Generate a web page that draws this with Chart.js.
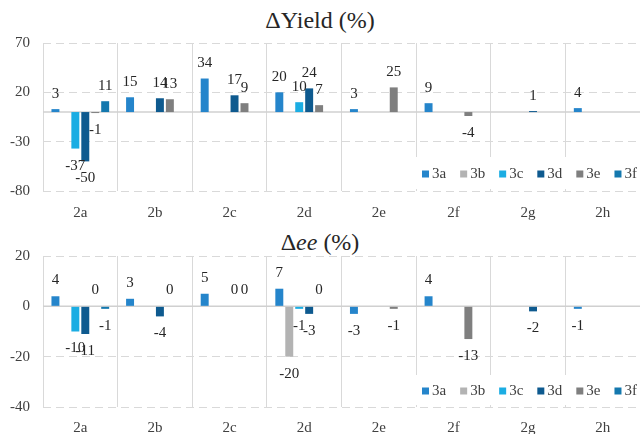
<!DOCTYPE html>
<html>
<head>
<meta charset="utf-8">
<script src="https://cdn.jsdelivr.net/npm/chart.js@4/dist/chart.umd.min.js"></script>
<style>.t{font-family:'Liberation Serif';font-size:24px;}</style>
</head>
<body style="margin:0;">
<div class="t" style="position:absolute;left:0;top:8px;width:640px;text-align:center;line-height:24px;color:#262626;">ΔYield (%)</div>
<div class="t" style="position:absolute;left:0;top:230px;width:640px;text-align:center;line-height:24px;color:#262626;">Δ<i>ee</i> (%)</div>
<div style="position:absolute;left:0;top:0px;width:640px;height:222px;"><canvas id="c1"></canvas></div>
<div style="position:absolute;left:0;top:222px;width:640px;height:212px;"><canvas id="c2"></canvas></div>
<script>
// data
const categories = ['2a', '2b', '2c', '2d', '2e', '2f', '2g', '2h'];
const seriesNames = ['3a', '3b', '3c', '3d', '3e', '3f'];
const seriesColors = ['#2585CB', '#B3B3B3', '#1BADE3', '#0E5A8F', '#7F7F7F', '#1478AE'];

// Yield (%)
const yield3a = [3, 15, 34, 20, 3, 9, null, 4];
const yield3b = [null, null, null, null, null, null, null, null];
const yield3c = [-37, null, null, 10, null, null, null, null];
const yield3d = [-50, 14, 17, 24, null, null, 1, null];
const yield3e = [-1, 13, 9, 7, 25, -4, null, null];
const yield3f = [11, null, null, null, null, null, null, null];
const yieldTicks = [-80, -30, 20, 70];

// ee (%)
const ee3a = [4, 3, 5, 7, -3, 4, null, -1];
const ee3b = [null, null, null, -20, null, null, null, null];
const ee3c = [-10, null, null, -1, null, null, null, null];
const ee3d = [-11, -4, 0, -3, null, null, -2, null];
const ee3e = [0, 0, 0, 0, -1, -13, null, null];
const ee3f = [-1, null, null, null, null, null, null, null];
const eeTicks = [-40, -20, 0, 20];

const FONT = "'Liberation Serif'";
const GRID = '#D9D9D9';

function makeDatasets(arrs) {
  return arrs.map((d, i) => ({
    label: seriesNames[i],
    data: d,
    backgroundColor: seriesColors[i],
    borderWidth: 0,
    categoryPercentage: 0.8,
    barPercentage: 0.8
  }));
}

const zeroLine = {
  id: 'zeroLine',
  beforeDatasetsDraw(chart) {
    const y = chart.scales.y.getPixelForValue(0);
    const a = chart.chartArea;
    const ctx = chart.ctx;
    ctx.save();
    ctx.strokeStyle = '#D0D0D0';
    ctx.lineWidth = 1.5;
    ctx.beginPath();
    ctx.moveTo(a.left, y);
    ctx.lineTo(a.right, y);
    ctx.stroke();
    ctx.restore();
  }
};

const barLabels = {
  id: 'barLabels',
  afterDatasetsDraw(chart, args, opts) {
    const ctx = chart.ctx;
    ctx.save();
    ctx.font = '15px ' + FONT;
    ctx.fillStyle = '#262626';
    ctx.textAlign = 'center';
    ctx.textBaseline = 'middle';
    chart.data.datasets.forEach((ds, di) => {
      const meta = chart.getDatasetMeta(di);
      ds.data.forEach((v, i) => {
        if (v === null || v === undefined) return;
        const el = meta.data[i];
        const y = v >= 0 ? el.y - opts.up : el.y + opts.down;
        ctx.fillText(String(v), el.x, y);
      });
    });
    ctx.restore();
  }
};

const boxLegend = {
  id: 'boxLegend',
  afterDraw(chart, args, opts) {
    const ctx = chart.ctx;
    const a = chart.chartArea;
    const top = a.bottom - opts.h - 2;
    ctx.save();
    ctx.fillStyle = '#fff';
    ctx.fillRect(a.left + 372, top, a.right - a.left - 372 + 2, opts.h);
    ctx.font = '15px ' + FONT;
    ctx.textBaseline = 'middle';
    ctx.textAlign = 'left';
    let x = a.left + 379;
    const cy = top + opts.h / 2 + 1;
    chart.data.datasets.forEach((ds) => {
      ctx.fillStyle = ds.backgroundColor;
      ctx.fillRect(x, cy - 3.5, 7, 7);
      x += 10;
      ctx.fillStyle = '#404040';
      ctx.fillText(ds.label, x, cy);
      x += ctx.measureText(ds.label).width + 14;
    });
    ctx.restore();
  }
};

function makeChart(id, arrs, ticksArr, cfg) {
  const min = ticksArr[0], max = ticksArr[ticksArr.length - 1];
  return new Chart(document.getElementById(id), {
    type: 'bar',
    data: { labels: categories, datasets: makeDatasets(arrs) },
    options: {
      responsive: true,
      maintainAspectRatio: false,
      animation: false,
      layout: { padding: { top: cfg.padTop, left: 0, right: 0, bottom: 0 } },
      plugins: {
        legend: { display: false },
        title: { display: false },
        tooltip: { enabled: false },
        barLabels: { up: cfg.up, down: cfg.down },
        boxLegend: { h: cfg.legendH }
      },
      scales: {
        x: {
          grid: { color: GRID, lineWidth: 1, drawTicks: false, offset: true },
          border: { display: false },
          ticks: { font: { family: FONT, size: 15 }, color: '#404040', padding: cfg.xPad },
          afterFit: (s) => { s.height = cfg.xHeight; }
        },
        y: {
          min: min, max: max,
          afterBuildTicks: (s) => { s.ticks = ticksArr.map(v => ({ value: v })); },
          grid: { color: GRID, lineWidth: 1, drawTicks: false },
          border: { display: false, dash: [8, 5] },
          ticks: { font: { family: FONT, size: 15 }, color: '#404040', padding: 13 },
          afterFit: (s) => { s.width = 43; }
        }
      }
    },
    plugins: [zeroLine, barLabels, boxLegend]
  });
}

makeChart('c1', [yield3a, yield3b, yield3c, yield3d, yield3e, yield3f], yieldTicks,
  { padTop: 43, xPad: 13, xHeight: 31, up: 15, down: 17, legendH: 32 });
makeChart('c2', [ee3a, ee3b, ee3c, ee3d, ee3e, ee3f], eeTicks,
  { padTop: 34, xPad: 12, xHeight: 27, up: 16, down: 17, legendH: 30 });
</script>
</body>
</html>
